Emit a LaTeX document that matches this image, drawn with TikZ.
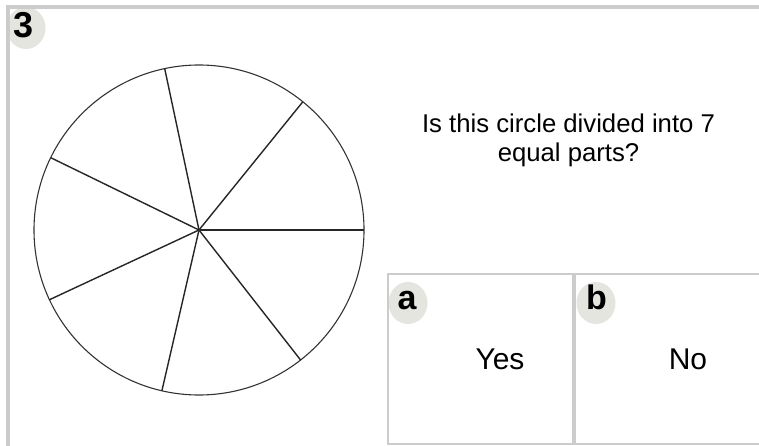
\documentclass[tikz,border=0pt]{standalone}
\usepackage{fontspec}
\setmainfont{Liberation Sans}
\usetikzlibrary{positioning}
\definecolor{framegray}{RGB}{204,204,204}
\definecolor{badgegray}{RGB}{229,229,223}
\tikzset{
  frameline/.style={draw=framegray, line width=4pt},
  answerbox/.style={draw=framegray, line width=2pt, minimum height=170pt,
    inner sep=0pt, outer sep=0pt},
  badge/.style={ellipse, fill=badgegray, minimum width=39pt, minimum height=42pt, inner sep=0pt},
  badgetext/.style={font=\bfseries\fontsize{34}{34}\selectfont, inner sep=0pt, anchor=base},
  disc/.style={circle, draw=black!80, line width=1.1pt, minimum size=330pt,
    inner sep=0pt, outer sep=0pt},
  spoke/.style={draw=black!85, line width=1.4pt},
  answer/.style={font=\fontsize{30}{34}\selectfont, inner sep=0pt}
}
\usetikzlibrary{shapes.geometric}

\begin{document}
\begin{tikzpicture}[x=1pt, y=-1pt]
  \useasboundingbox (0,0) rectangle (759,446);
  \fill[white] (0,0) rectangle (759,446);
  %% badges
  \node[badge] (qbadge) at (26,28) {};
  \node[badge] (abadge) at (408,303) {};
  \node[badge] (bbadge) at (596,303) {};
  %%
  \node[answerbox, minimum width=185pt] (ansA) at (480.5,359) {};
  \node[answerbox, minimum width=190pt] (ansB) at (670,359) {};
  %%
  \draw[frameline] (6,7) -- (765,7);
  \draw[frameline] (8,5) -- (8,450);
  %%
  \node[badgetext, font=\bfseries\fontsize{36}{36}\selectfont] (qnum) at (23.5,37.5) {3};
  \node[badgetext] (alabel) at (407,309) {a};
  \node[badgetext] (blabel) at (596.5,309) {b};
  %% circle in sevenths
  \node[disc] (circ) at (199,230) {};
  \foreach \k in {0,...,6}
    \draw[spoke] (circ.center) -- (circ.{\k*360/7});
  %%
  \node[align=center, inner sep=0pt, font=\fontsize{25.7}{29}\selectfont]
    (question) at (568.5,140.7) {Is this circle divided into 7\\equal parts?};
  \node[answer] (yes) at (500,359) {Yes};
  \node[answer] (no) at (688,359) {No};
\end{tikzpicture}
\end{document}
